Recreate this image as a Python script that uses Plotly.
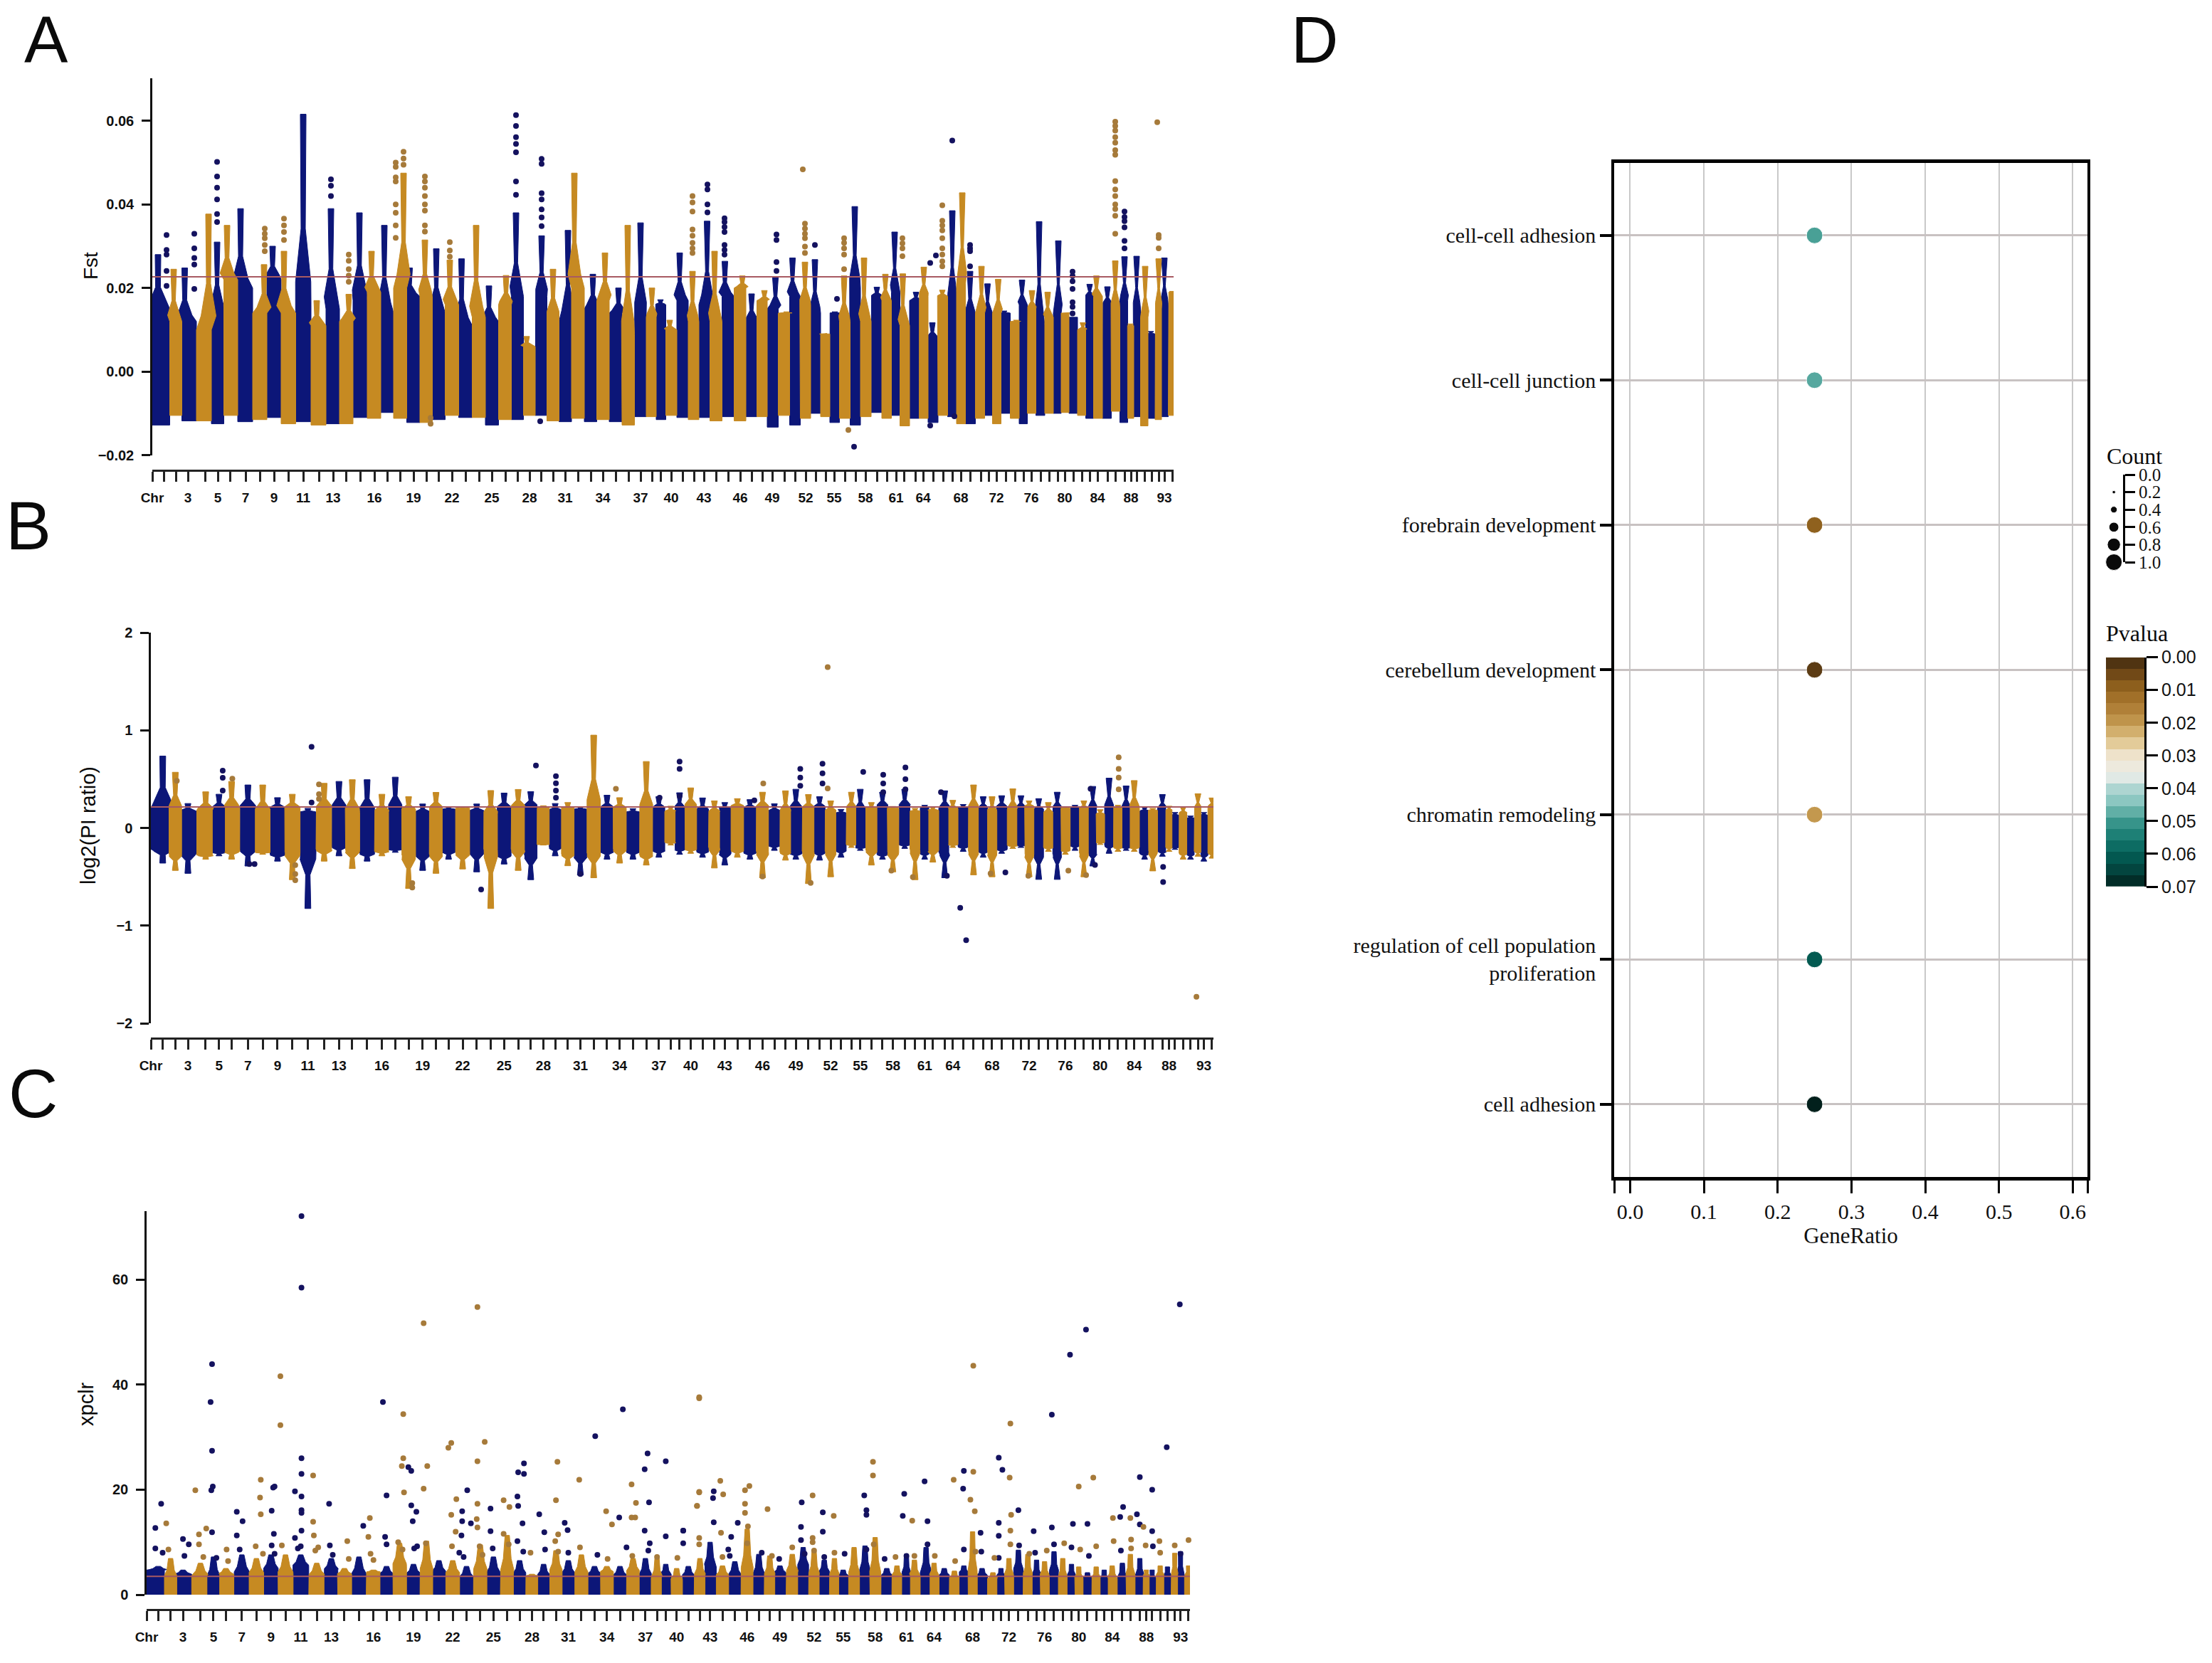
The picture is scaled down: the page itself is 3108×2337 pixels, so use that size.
import numpy as np
import plotly.graph_objects as go

W, H = 3108, 2337
NAVY = "#0c1678"
GOLD = "#c68a22"
NAVY_DOT = "#14125f"
GOLD_DOT = "#a67a3a"
SANS = "Liberation Sans"
SERIF = "Liberation Serif"

# chromosome centres along the genome axis, chr 1..94
chr_mid = [16, 33, 50, 74, 92, 109, 131, 151, 171, 191, 212, 234, 254, 272, 292, 312, 330, 348, 367, 385,
           402, 421, 440, 459, 477, 496, 513, 530, 546, 563, 580, 598, 616, 633, 651, 669, 686, 702, 714, 729,
           745, 761, 775, 792, 809, 826, 842, 857, 871, 888, 903, 918, 932, 946, 958, 973, 988, 1002, 1018, 1032,
           1045, 1056, 1072, 1083, 1097, 1111, 1124, 1136, 1149, 1164, 1175, 1186, 1199, 1212, 1224, 1235, 1248, 1260, 1272, 1282,
           1294, 1306, 1317, 1328, 1342, 1353, 1366, 1375, 1383, 1394, 1404, 1414, 1422, 1433]
labelled_chr = [3, 5, 7, 9, 11, 13, 16, 19, 22, 25, 28, 31, 34, 37, 40, 43, 46, 49, 52, 55, 58, 61, 64, 68, 72, 76, 80, 84, 88, 93]

# panel A
fst_peak_pos = [8, 30, 45, 80, 91, 105, 124, 158, 169, 185, 212, 231, 251, 276, 291, 308, 326, 353, 360, 383,
                399, 418, 434, 455, 473, 497, 511, 526, 547, 563, 584, 593, 619, 636, 655, 668, 686, 702, 714, 727,
                739, 759, 780, 790, 804, 829, 842, 861, 877, 891, 899, 917, 931, 944, 959, 972, 987, 1000, 1018, 1030,
                1043, 1054, 1073, 1084, 1096, 1110, 1124, 1138, 1149, 1165, 1172, 1189, 1197, 1214, 1221, 1236, 1246, 1256, 1274, 1284,
                1293, 1308, 1317, 1325, 1342, 1353, 1366, 1373, 1383, 1396, 1403, 1414, 1422, 1433]
fst_peak = [.028, .0245, .0248, .0377, .031, .035, .039, .0256, .030, .0288, .0616, .017, .039, .0185, .038, .0288, .035, .0475, .0248, .0315,
            .0294, .0267, .027, .035, .0205, .023, .038, .0084, .0325, .0245, .0338, .0475, .0233, .0284, .020, .035, .0356, .020, .0172, .0123,
            .0284, .024, .036, .0288, .0264, .0229, .0186, .0194, .0225, .0143, .0272, .0262, .0268, .0091, .0143, .0229, .0395, .0272, .0202, .0233,
            .0334, .0234, .019, .025, .0117, .0195, .0385, .0428, .024, .0252, .021, .0221, .0145, .0123, .0219, .0194, .0359, .019, .0313, .0141,
            .0127, .0117, .0209, .0229, .0203, .0265, .0275, .0114, .0276, .0252, .0096, .027, .0272, .0192]
fst_body = [.015, .012, .012, .010, .014, .022, .020, .014, .022, .014, .016, .011, .015, .012, .017, .019, .014, .020, .018, .018,
            .014, .016, .011, .013, .012, .016, .018, .006, .018, .013, .012, .020, .015, .017, .014, .009, .014, .013, .016, .010,
            .017, .012, .016, .012, .018, .020, .012, .017, .015, .014, .018, .016, .014, .009, .014, .012, .020, .012, .018, .017,
            .019, .011, .017, .018, .008, .018, .016, .021, .013, .014, .014, .014, .014, .012, .016, .015, .011, .013, .014, .014,
            .013, .010, .018, .018, .016, .015, .017, .011, .015, .013, .009, .015, .016, .019]
fst_low = [-.0128, -.0105, -.0118, -.0118, -.0125, -.0105, -.0120, -.0115, -.0110, -.0125, -.0120, -.0128, -.0125, -.0125, -.0110, -.0112, -.0098, -.0112, -.0122, -.0122,
           -.0115, -.0105, -.0110, -.0110, -.0128, -.0115, -.0115, -.0105, -.0105, -.0118, -.0120, -.0112, -.0120, -.0115, -.0120, -.0128, -.0108, -.0108, -.0115, -.0105,
           -.0110, -.0115, -.0110, -.0118, -.0108, -.0118, -.0108, -.0108, -.0133, -.0105, -.0128, -.0112, -.0100, -.0108, -.0122, -.0112, -.0128, -.0108, -.0098, -.0112,
           -.0105, -.0130, -.0112, -.0112, -.0122, -.0105, -.0108, -.0125, -.0125, -.0112, -.0105, -.0125, -.0100, -.0112, -.0125, -.0100, -.0105, -.0100, -.0100, -.0098,
           -.0100, -.0105, -.0112, -.0112, -.0112, -.0095, -.0122, -.0112, -.0108, -.0130, -.0112, -.0115, -.0108, -.0105]
fst_cutoff = 0.0227
fst_navy_x = [20, 20, 20, 20, 20, 59, 59, 59, 59, 59, 91, 91, 91, 91, 91, 91, 251, 251, 251, 511, 511, 511, 511, 511, 511, 511,
              547, 547, 547, 547, 547, 547, 547, 545, 780, 780, 780, 780, 804, 804, 804, 804, 804, 804, 804, 877, 877, 877, 877,
              931, 962, 986, 1093, 1093, 1101, 1124, 1127, 1149, 1149, 1149, 1149, 1293, 1293, 1293, 1293, 1293, 1293, 1293,
              1366, 1366, 1366, 1366, 1366, 1366]
fst_navy_y = [.0327, .0291, .0280, .0241, .0205, .033, .0295, .0272, .0256, .0198, .0502, .0467, .044, .0412, .0377, .0358, .046, .0445, .042,
              .0614, .0588, .0561, .0545, .0525, .0455, .0423, .0509, .0497, .0427, .0412, .0388, .0369, .0348, -.0119, .0448, .0436, .040, .0381,
              .0367, .0358, .0346, .0334, .0303, .0291, .028, .0328, .0315, .0262, .0241, .0303, .0174, -.018, .026, -.0129, .0278, .0553, -.0107,
              .0303, .0295, .0288, .0252, .0239, .0229, .0216, .0198, .0166, .0155, .0139, .0383, .037, .036, .0345, .0313, .0295]
fst_gold_x = [158, 158, 158, 158, 158, 185, 185, 185, 185, 276, 276, 276, 276, 276, 353, 353, 353, 342, 342, 342, 342, 342, 342, 342, 342,
              383, 383, 383, 383, 383, 383, 383, 383, 391, 391, 418, 418, 418, 759, 759, 759, 759, 759, 759, 759, 759,
              914, 917, 917, 917, 917, 917, 917, 972, 972, 972, 972, 972, 978, 1054, 1054, 1054, 1054,
              1110, 1110, 1110, 1110, 1110, 1110, 1110, 1110, 1110,
              1353, 1353, 1353, 1353, 1353, 1353, 1353, 1353, 1353, 1353, 1353, 1353, 1353, 1353, 1412, 1414, 1414, 1414]
fst_gold_y = [.0342, .033, .0319, .0303, .0288, .0366, .035, .0334, .0315, .028, .0265, .0245, .023, .0215, .0526, .051, .0495,
              .05, .049, .0465, .0455, .040, .038, .035, .032, .0467, .0455, .044, .042, .040, .0385, .035, .0335, -.0111, -.0125,
              .031, .029, .0275, .042, .0405, .0383, .034, .0325, .0308, .0295, .0284, .0484, .0354, .0342, .033, .0319, .0299, .0284,
              .0319, .0308, .0295, .028, .0245, -.014, .0319, .0307, .0295, .0276,
              .0398, .0361, .035, .0338, .0319, .0295, .028, .0264, .0252,
              .0598, .0588, .0577, .0561, .0548, .053, .0519, .0456, .0436, .042, .040, .0389, .0373, .033, .0597, .0327, .032, .0295]

# panel B
pi_peak = [.736, .57, .25, .37, .345, .476, .44, .44, .31, .345, .20, .457, .476, .494, .494, .345, .52, .32, .245, .364,
           .216, .216, .245, .383, .357, .394, .372, .227, .25, .26, .216, .95, .335, .31, .197, .68, .32, .223, .36, .41,
           .307, .277, .26, .30, .29, .366, .247, .38, .396, .342, .32, .277, .19, .366, .396, .26, .366, .22, .396, .20,
           .232, .217, .38, .283, .24, .44, .32, .32, .33, .40, .33, .277, .30, .26, .366, .217, .232, .277, .425, .187,
           .51, .232, .43, .485, .217, .20, .342, .223, .158, .217, .122, .35, .158, .307]
pi_trough = [-.36, -.435, -.465, -.32, -.286, -.32, -.39, -.27, -.34, -.53, -.825, -.34, -.286, -.416, -.34, -.286, -.25, -.62, -.435, -.465,
             -.32, -.42, -.45, -.825, -.37, -.435, -.53, -.175, -.286, -.387, -.483, -.51, -.32, -.36, -.32, -.38, -.30, -.175, -.27, -.26,
             -.30, -.41, -.38, -.30, -.32, -.51, -.23, -.33, -.32, -.57, -.33, -.50, -.30, -.20, -.23, -.38, -.32, -.45, -.21, -.53,
             -.32, -.35, -.51, -.20, -.24, -.48, -.30, -.50, -.26, -.21, -.20, -.50, -.527, -.24, -.527, -.27, -.23, -.50, -.39, -.17,
             -.26, -.24, -.23, -.24, -.32, -.44, -.29, -.24, -.22, -.32, -.32, -.29, -.34, -.31]
pi_body_hi = [.20, .18, .17, .18, .20, .20, .20, .16, .20, .20, .16, .19, .20, .16, .17, .16, .20, .18, .16, .20,
              .19, .20, .17, .14, .20, .21, .22, .20, .18, .20, .19, .20, .20, .20, .16, .18, .20, .17, .20, .22,
              .18, .16, .20, .22, .20, .21, .17, .16, .20, .20, .21, .17, .15, .20, .18, .20, .22, .20, .22, .17,
              .20, .18, .20, .20, .21, .20, .20, .17, .21, .19, .21, .22, .18, .15, .20, .20, .20, .20, .20, .14,
              .20, .21, .20, .20, .17, .18, .20, .18, .13, .15, .10, .20, .13, .22]
pi_body_lo = [-.22, -.27, -.25, -.28, -.25, -.24, -.22, -.25, -.27, -.25, -.25, -.22, -.19, -.23, -.26, -.24, -.22, -.28, -.27, -.27,
              -.24, -.26, -.24, -.22, -.28, -.22, -.28, -.17, -.20, -.27, -.28, -.26, -.24, -.22, -.24, -.28, -.23, -.15, -.22, -.22,
              -.24, -.20, -.26, -.23, -.25, -.24, -.18, -.25, -.26, -.24, -.25, -.24, -.23, -.17, -.20, -.23, -.27, -.25, -.17, -.22,
              -.26, -.23, -.25, -.17, -.19, -.24, -.24, -.25, -.22, -.18, -.18, -.27, -.27, -.20, -.27, -.23, -.18, -.26, -.26, -.15,
              -.18, -.20, -.20, -.20, -.26, -.24, -.24, -.20, -.20, -.26, -.27, -.24, -.28, -.26]
pi_cutoff = 0.2156
pi_navy_x = [217, 217, 520, 97, 97, 97, 547, 547, 547, 547, 714, 714, 714, 446, 580, 687, 140, 133,
             877, 877, 877, 907, 907, 907, 962, 989, 989, 989, 1019, 1019, 1019, 1067, 1075, 1093, 1101, 1154, 1269, 1275, 1367, 1367, 815]
pi_navy_y = [.83, .26, .64, .587, .513, .383, .53, .457, .383, .309, .68, .604, .327, -.63, -.472, .31, -.37, -.37,
             .604, .515, .432, .658, .56, .455, .574, .545, .455, .366, .62, .50, .396, .366, -.49, -.818, -1.149, -.455, .40, -.378, -.399, -.554, .283]
pi_gold_x = [35, 110, 227, 227, 227, 195, 195, 195, 353, 353, 628, 914, 914, 1412, 1307, 1307, 1307, 1307, 827, 826, 891, 1000, 1029, 1134, 1185, 1239, 1263]
pi_gold_y = [.483, .505, .446, .346, .297, -.38, -.472, -.535, -.565, -.61, .40, 1.646, .405, -1.729, .723, .604, .515, .396, .455, -.497, -.5625, -.4375, -.503, -.467, -.49, -.4375, -.482]

# panel C
xp_body = [4.7, 3.2, 3.9, 3.6, 3.2, 3.9, 3.9, 3.9, 4.7, 3.9, 5.4, 3.6, 4.7, 3.9, 3.6, 4.3, 3.9, 5.4, 3.9, 4.3,
           4.3, 3.9, 3.2, 4.3, 3.9, 3.9, 3.9, 3.6, 3.6, 4.3, 3.9, 3.9, 3.9, 4.3, 3.6, 4.3, 3.6, 3.2, 3.9, 2.8,
           3.6, 3.6, 5.3, 3.6, 3.6, 4.2, 3.6, 3.6, 4.2, 4.2, 5.3, 3.6, 4.2, 3.6, 3.6, 3.6, 4.2, 3.6, 3.6, 3.6,
           3.9, 3.6, 4.2, 3.6, 3.6, 3.1, 4.2, 3.6, 3.6, 3.1, 3.6, 3.6, 4.5, 3.6, 3.6, 3.6, 4.2, 3.1, 3.6, 3.1,
           3.1, 3.1, 3.1, 3.1, 3.1, 3.6, 3.6, 3.6, 3.1, 3.6, 3.6, 3.6, 3.6, 3.6]
xp_dense = [5.4, 6.9, 4.7, 6.0, 7.2, 5.0, 7.6, 6.9, 7.6, 7.6, 7.6, 6.0, 6.9, 5.0, 7.2, 4.7, 5.4, 9.8, 5.8, 10.2,
            6.5, 6.5, 5.4, 9.5, 7.2, 11.3, 6.5, 3.9, 5.8, 8.4, 6.5, 7.6, 5.4, 5.4, 5.4, 6.9, 6.9, 6.9, 5.8, 5.0,
            5.4, 6.9, 10.0, 5.5, 6.3, 12.5, 7.7, 7.4, 5.5, 7.7, 9.0, 8.2, 6.6, 6.9, 4.7, 9.0, 9.3, 10.9, 5.0, 5.5,
            7.4, 6.6, 9.0, 6.0, 5.0, 4.5, 5.5, 12.0, 5.0, 4.2, 5.0, 6.9, 8.5, 7.7, 6.6, 6.3, 8.2, 6.9, 5.8, 5.3,
            4.2, 5.3, 4.7, 5.5, 6.0, 7.7, 6.9, 4.7, 4.7, 5.5, 5.3, 7.9, 8.2, 5.5]
xp_cutoff = 3.5
xp_navy_x = [213, 213, 90, 88, 90, 91, 89, 90, 20, 12, 124, 132, 124, 174, 176, 172, 175, 204, 213, 213, 213, 213, 213, 213, 204, 251,
             325, 330, 298, 328, 360, 364, 364, 371, 366, 441, 434, 434, 446, 433, 473, 473, 511, 519, 519, 510, 511, 517, 540, 547, 575, 579,
             617, 655, 650, 689, 685, 691, 685, 714, 714, 738,
             1421, 1292, 1270, 1245, 1403, 1172, 1177, 1124, 1070, 1123, 1366, 1383, 780, 779, 1042, 987, 901, 1343, 1199, 930, 990, 990, 1040, 1074, 780, 813,
             1362, 1339, 900, 738, 1172, 1366, 1274, 1294, 1245, 1383, 930, 804, 1147, 1220, 1172, 900,
             12, 22, 50, 58, 52, 96, 128, 172, 176, 208, 212, 252, 256, 330, 368, 372, 430, 436, 476, 510, 518, 548, 580, 620, 660, 690, 692, 738,
             800, 802, 846, 870, 905, 932, 960, 990, 1015, 1045, 1074, 1124, 1148, 1172, 1200, 1222, 1248, 1272, 1296, 1340, 1384, 1422]
xp_navy_y = [72.1, 58.5, 43.9, 36.7, 27.4, 20.6, 19.9, 11.9, 17.3, 12.7, 15.8, 14.0, 11.3, 20.4, 20.6, 16.0, 11.6, 19.7, 26.0, 23.0, 18.7, 16.1, 15.6, 12.2, 10.8, 17.3,
             36.7, 18.9, 13.1, 11.0, 24.3, 23.6, 17.0, 15.8, 14.0, 19.9, 15.9, 14.0, 13.6, 11.3, 16.4, 12.1, 23.3, 25.0, 23.0, 18.7, 16.9, 13.6, 15.3, 11.9, 13.7, 12.3,
             30.2, 35.3, 14.7, 26.9, 23.9, 17.6, 12.2, 25.4, 11.1, 12.2,
             55.3, 50.5, 45.7, 34.3, 28.1, 26.1, 23.8, 23.6, 21.6, 20.2, 22.4, 20.0, 19.7, 18.4, 19.2, 18.9, 17.6, 16.7, 16.1, 15.7, 16.1, 15.2, 15.0, 14.0, 13.8, 13.7,
             15.3, 14.8, 12.9, 12.2, 13.7, 13.4, 13.5, 13.5, 12.8, 12.1, 12.0, 11.0, 11.8, 12.1, 11.2, 10.4,
             8.8, 8.0, 10.6, 9.6, 7.4, 7.0, 8.6, 9.4, 7.8, 8.8, 9.2, 9.4, 7.6, 9.6, 8.8, 9.2, 8.0, 7.2, 8.8, 10.2, 8.2, 8.6, 8.0, 7.6, 9.0, 8.4, 9.8, 9.8,
             8.6, 7.4, 8.0, 6.8, 7.8, 7.2, 7.8, 8.6, 6.8, 7.4, 9.6, 8.6, 8.2, 7.0, 9.4, 8.0, 9.6, 9.0, 7.4, 8.4, 9.2, 7.8]
xp_gold_x = [184, 184, 381, 455, 465, 455, 415, 419, 353, 353, 351, 386, 381, 354, 67, 27, 72, 82, 157, 156, 157, 229, 229, 230, 276, 307, 305,
             426, 419, 425, 455, 454, 455, 491, 499, 491, 565, 563, 566, 595, 632, 640, 667, 673, 667, 672, 757, 760, 760, 760,
             1137, 1188, 999, 999, 1137, 1110, 1187, 1302, 1282, 789, 793, 760, 757, 823, 829, 916, 854, 823, 823, 1133, 1139, 945, 1189, 1329, 1353, 1053,
             790, 827, 760, 916, 1188, 1371, 1354, 1433, 1393,
             30, 72, 78, 110, 112, 150, 160, 186, 232, 236, 278, 308, 312, 346, 352, 384, 420, 458, 462, 498, 528, 562, 566, 596, 634, 668, 702, 730,
             760, 792, 826, 860, 888, 918, 916, 946, 1000, 1030, 1056, 1084, 1112, 1140, 1166, 1188, 1214, 1238, 1262, 1284, 1306, 1330, 1354, 1374, 1394, 1414]
xp_gold_y = [41.6, 32.3, 51.7, 54.8, 29.1, 25.4, 28.0, 28.9, 34.4, 26.0, 24.5, 24.5, 20.2, 19.5, 19.9, 13.6, 11.5, 12.6, 21.9, 18.5, 15.3, 22.7, 13.9, 11.3, 10.2, 14.6, 11.0,
             18.2, 15.2, 12.0, 17.3, 14.4, 12.8, 18.0, 16.7, 11.6, 25.3, 18.0, 11.5, 21.9, 15.9, 13.4, 21.0, 17.5, 14.7, 14.7, 16.9, 19.5, 37.4, 37.6,
             43.6, 32.6, 25.3, 22.7, 23.4, 21.9, 22.3, 22.3, 20.6, 21.7, 19.1, 19.6, 16.9, 19.9, 20.7, 18.9, 16.3, 17.3, 15.6, 18.1, 15.9, 15.0, 15.2, 14.6, 14.6, 14.1,
             11.8, 13.0, 10.8, 10.8, 12.2, 12.9, 10.5, 10.4, 10.2,
             8.6, 9.6, 7.2, 8.6, 6.4, 9.2, 7.8, 9.4, 8.4, 9.0, 6.8, 7.8, 6.6, 10.0, 8.6, 9.8, 9.2, 9.2, 7.6, 9.6, 8.0, 10.2, 8.2, 9.0, 6.8, 7.4, 7.2, 7.0,
             9.6, 7.2, 9.8, 7.4, 9.0, 8.4, 10.0, 8.0, 9.6, 7.2, 7.4, 7.4, 6.4, 8.2, 7.0, 9.6, 7.8, 8.4, 9.8, 8.6, 9.2, 10.2, 8.8, 9.4, 8.0, 9.4]

# panel D
go_terms = ["cell-cell adhesion", "cell-cell junction", "forebrain development", "cerebellum development",
            "chromatin remodeling", "regulation of cell population<br>proliferation", "cell adhesion"]
gene_ratio = [0.25, 0.25, 0.25, 0.25, 0.25, 0.25, 0.25]
go_pvalue = [0.049, 0.048, 0.009, 0.003, 0.02, 0.061, 0.07]
go_count = [1.0, 1.0, 1.0, 1.0, 1.0, 1.0, 1.0]
count_legend = [0.0, 0.2, 0.4, 0.6, 0.8, 1.0]
pvalue_bands = [.00175, .00525, .00875, .01225, .01575, .01925, .02275, .02625, .02975, .03325,
                .03675, .04025, .04375, .04725, .05075, .05425, .05775, .06125, .06475, .06825]
pvalue_ticks = [0, .01, .02, .03, .04, .05, .06, .07]
pvalue_scale = [[0, "#3f2a10"], [.07, "#6e4716"], [.14, "#96661f"], [.21, "#ab7a33"], [.29, "#c49a50"], [.36, "#e0c48a"],
                [.43, "#efe4cf"], [.5, "#ecebe4"], [.54, "#d8e8e6"], [.57, "#b0d6d3"], [.64, "#82c3bc"], [.71, "#3f9a90"],
                [.79, "#167a70"], [.86, "#035e55"], [.93, "#03433d"], [1, "#02201c"]]

# chromosome edges halfway between the centres
mids = np.array(chr_mid, dtype=float)
edges = np.concatenate([[0], (mids[:-1] + mids[1:]) / 2, [1437]])

tick_vals = [0] + chr_mid
tick_text = ["Chr"] + [str(n) if n in labelled_chr else "" for n in range(1, 95)]

PAGE_PAD = 8  # the page body has a margin, the figure starts there


def px_x(a, b):
    return [(a - PAGE_PAD) / W, (b - PAGE_PAD) / W]


def px_y(top, bottom):
    return [1 - (bottom - PAGE_PAD) / H, 1 - (top - PAGE_PAD) / H]


fig = go.Figure()


def spire(pos, width, base, tip, spike, narrow):
    # left side of a tapered tip, from its base out to the point
    rise = tip - base
    return [(pos - 0.5 * width, base + 0.12 * rise), (pos - narrow * width, base + 0.4 * rise), (pos - spike / 2, tip)]


def towers(ax, ay, top, body_hi, body_lo, bottom, top_pos=None, narrow=0.14, spike=8, flat_base=False):
    # one tapered outline per chromosome, navy on odd and gold on even ones
    top_pos = top_pos if top_pos is not None else chr_mid
    for start, color in ((0, NAVY), (1, GOLD)):
        xs, ys = [], []
        for i in range(start, len(chr_mid), 2):
            l, r = edges[i], edges[i + 1]
            w = r - l
            c = chr_mid[i]
            p = min(max(top_pos[i], l + spike / 2), r - spike / 2)
            hi, lo = body_hi[i], body_lo[i]
            t, b = max(top[i], hi), min(bottom[i], lo)
            left_up = spire(p, w, hi, t, spike, narrow)
            right_up = [(2 * p - vx, vy) for vx, vy in reversed(left_up)]
            verts = [(l, lo), (l, hi)] + left_up + right_up + [(r, hi), (r, lo)]
            if flat_base:
                verts += [(r, b), (l, b)]
            else:
                left_down = spire(c, w, lo, b, spike, narrow)
                verts += [(2 * c - vx, vy) for vx, vy in left_down] + list(reversed(left_down))
            for vx, vy in verts:
                xs.append(vx)
                ys.append(vy)
            xs.append(None)
            ys.append(None)
        fig.add_trace(go.Scatter(x=xs, y=ys, mode="lines", fill="toself", fillcolor=color, line=dict(color=color, width=1),
                                 xaxis=ax, yaxis=ay, cliponaxis=False, showlegend=False, hoverinfo="skip"))


def dots(ax, ay, x, y, color, size=8):
    fig.add_trace(go.Scatter(x=x, y=y, mode="markers", marker=dict(color=color, size=size, opacity=1),
                             xaxis=ax, yaxis=ay, cliponaxis=False, showlegend=False))


def cutoff(ax, ay, value):
    fig.add_trace(go.Scatter(x=[0, 1440], y=[value, value], mode="lines", line=dict(color="#a85a62", width=2),
                             xaxis=ax, yaxis=ay, cliponaxis=False, showlegend=False))


# A
towers("x", "y", fst_peak, fst_body, fst_low, fst_low, top_pos=fst_peak_pos, flat_base=True)
dots("x", "y", fst_navy_x, fst_navy_y, NAVY_DOT)
dots("x", "y", fst_gold_x, fst_gold_y, GOLD_DOT)
cutoff("x", "y", fst_cutoff)

# B
towers("x2", "y2", pi_peak, pi_body_hi, pi_body_lo, pi_trough)
dots("x2", "y2", pi_navy_x, pi_navy_y, NAVY_DOT)
dots("x2", "y2", pi_gold_x, pi_gold_y, GOLD_DOT)
cutoff("x2", "y2", pi_cutoff)

# C
xp_base = [-0.4] * len(chr_mid)
towers("x3", "y3", xp_dense, xp_body, xp_base, xp_base, narrow=0.3, spike=6, flat_base=True)
dots("x3", "y3", xp_navy_x, xp_navy_y, NAVY_DOT)
dots("x3", "y3", xp_gold_x, xp_gold_y, GOLD_DOT)
cutoff("x3", "y3", xp_cutoff)

# D
fig.add_trace(go.Scatter(x=gene_ratio, y=go_terms, mode="markers", xaxis="x4", yaxis="y4", showlegend=False,
                         marker=dict(size=go_count, sizemode="diameter", sizeref=1 / 23, color=go_pvalue, opacity=1,
                                     colorscale=pvalue_scale, cmin=0, cmax=0.07, showscale=False)))
# size legend
fig.add_trace(go.Scatter(x=[0] * 6, y=count_legend, mode="markers", xaxis="x5", yaxis="y5", showlegend=False, cliponaxis=False,
                         marker=dict(size=count_legend, sizemode="diameter", sizeref=1 / 23, sizemin=2, color="#0a0a0a", opacity=1)))
# p value legend
fig.add_trace(go.Heatmap(x=[0], y=pvalue_bands, z=[[p] for p in pvalue_bands], xaxis="x6", yaxis="y6", colorscale=pvalue_scale,
                         zmin=0, zmax=0.07, showscale=False))

chrom_axis = dict(tickmode="array", tickvals=tick_vals, ticktext=tick_text, tickangle=0, range=[0, 1435], anchor="free",
                  showgrid=False, zeroline=False, showline=True, linecolor="#222", linewidth=3, ticks="outside", ticklen=14,
                  tickwidth=2.5, tickcolor="#222", ticklabelstandoff=6, tickfont=dict(family=SANS, size=19, color="#111", weight="bold"))
value_axis = dict(showgrid=False, zeroline=False, showline=True, linecolor="#111", linewidth=2.5, ticks="outside", ticklen=12,
                  tickwidth=2.5, tickcolor="#111", ticklabelstandoff=7, tickfont=dict(family=SANS, size=20, color="#111", weight="bold"))

fig.update_layout(
    template="none", width=W, height=H, margin=dict(l=0, r=0, t=0, b=0, autoexpand=False), paper_bgcolor="white", plot_bgcolor="white",
    xaxis=dict(chrom_axis, domain=px_x(214, 1649), position=1 - (661 - PAGE_PAD) / H),
    yaxis=dict(value_axis, domain=px_y(110, 639.6), range=[-0.02, 0.0702], tickvals=[-0.02, 0, 0.02, 0.04, 0.06],
               tickformat=".2f", anchor="x"),
    xaxis2=dict(chrom_axis, domain=px_x(212, 1705), position=1 - (1459 - PAGE_PAD) / H),
    yaxis2=dict(value_axis, domain=px_y(889, 1438), range=[-2, 2], tickvals=[-2, -1, 0, 1, 2], anchor="x2"),
    xaxis3=dict(chrom_axis, domain=px_x(206, 1672), position=1 - (2262 - PAGE_PAD) / H),
    yaxis3=dict(value_axis, domain=px_y(1702.4, 2241), range=[0, 73], tickvals=[0, 20, 40, 60], anchor="x3"),
    xaxis4=dict(domain=px_x(2268, 2933), range=[-0.0217, 0.62], anchor="y4", tickmode="array",
                tickvals=[-0.0217, 0, 0.1, 0.2, 0.3, 0.4, 0.5, 0.6, 0.62],
                ticktext=["", "0.0", "0.1", "0.2", "0.3", "0.4", "0.5", "0.6", ""], showline=True, mirror=True, linecolor="#000",
                linewidth=5, ticks="outside", ticklen=18, tickwidth=3, tickcolor="#000", gridcolor="#c9c9c9", gridwidth=2,
                zeroline=False, tickfont=dict(family=SERIF, size=30, color="#111"),
                title=dict(text="GeneRatio", font=dict(family=SERIF, size=31, color="#111"), standoff=8)),
    yaxis4=dict(domain=px_y(229, 1653.6), type="category", categoryorder="array", categoryarray=go_terms, range=[6.5, -0.5],
                anchor="x4", showline=True, mirror=True, linecolor="#000", linewidth=3.5, ticks="outside", ticklen=16, tickwidth=4,
                tickcolor="#000", gridcolor="#c8c2c2", gridwidth=3, tickfont=dict(family=SERIF, size=30, color="#111")),
    xaxis5=dict(domain=px_x(2955, 2983), range=[-0.54, 0.46], visible=False, anchor="y5"),
    yaxis5=dict(domain=px_y(667, 790), range=[1, 0], anchor="x5", side="right", showgrid=False, zeroline=False, showline=True,
                linecolor="#000", linewidth=3, ticks="outside", ticklen=14, tickwidth=3, tickcolor="#000", tickvals=count_legend,
                tickformat=".1f", tickfont=dict(family=SERIF, size=25, color="#111")),
    xaxis6=dict(domain=px_x(2959, 3013), visible=False, anchor="y6"),
    yaxis6=dict(domain=px_y(923.7, 1246), range=[0.07, 0], anchor="x6", side="right", showgrid=False, zeroline=False, showline=True,
                linecolor="#000", linewidth=3, ticks="outside", ticklen=16, tickwidth=3, tickcolor="#000", tickvals=pvalue_ticks,
                tickformat=".2f", tickfont=dict(family=SANS, size=25, color="#111")),
)


def note(text, x, y, size, family=SANS, angle=0, anchor="center"):
    fig.add_annotation(text=text, x=(x - PAGE_PAD) / W, y=1 - (y - PAGE_PAD) / H, xref="paper", yref="paper", showarrow=False, textangle=angle,
                       xanchor=anchor, yanchor="middle", font=dict(family=family, size=size, color="#0a0a0a"))


note("A", 65, 56, 92)
note("B", 40, 738, 96)
note("C", 46, 1536, 96)
note("D", 1847, 56, 92)
note("Fst", 128, 374, 28, angle=-90)
note("log2(PI ratio)", 124, 1160, 29, angle=-90)
note("xpclr", 121, 1973, 29, angle=-90)
note("Count", 2999, 641, 32, SERIF)
note("Pvalua", 3002, 890, 32, SERIF)

fig.write_html("out.html")
